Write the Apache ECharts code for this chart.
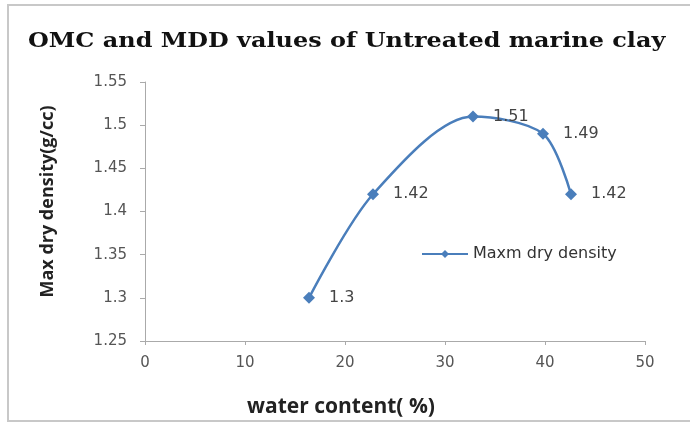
<!DOCTYPE html>
<html>
<head>
<meta charset="utf-8">
<script src="https://cdn.jsdelivr.net/npm/echarts@6/dist/echarts.min.js"></script>
<style>
  html, body { margin: 0; padding: 0; background: #fff; }
  #chart { width: 690px; height: 425px; }
</style>
</head>
<body>
<div id="chart"></div>
<script>
// water content (%) and max dry density (g/cc)
const waterContent = [16.4, 22.8, 32.8, 39.8, 42.6]
const dryDensity = [1.3, 1.42, 1.51, 1.49, 1.42]
const xTicks = [0, 10, 20, 30, 40, 50]
const yTicks = [1.25, 1.3, 1.35, 1.4, 1.45, 1.5, 1.55]

const points = waterContent.map((x, i) => [x, dryDensity[i]])

const chart = echarts.init(document.getElementById('chart'))
chart.setOption({
  animation: false,
  graphic: [
    {
      type: 'rect',
      shape: { x: 8, y: 5, width: 700, height: 416 },
      style: { fill: 'none', stroke: '#c8c8c8', lineWidth: 2 }
    },
    {
      // chart title, stretched a bit to match the wide original face
      type: 'text',
      x: 28,
      y: 31,
      scaleX: 1.14,
      style: {
        text: 'OMC and MDD values of Untreated marine clay',
        fontFamily: "'DejaVu Serif', serif",
        fontWeight: 'bold',
        fontSize: 21,
        fill: '#111'
      }
    }
  ],
  legend: {
    data: ['Maxm dry density'],
    left: 416,
    top: 241,
    itemWidth: 46,
    itemHeight: 10,
    itemGap: 4,
    textStyle: { fontFamily: 'DejaVu Sans', fontSize: 16, color: '#333' }
  },
  grid: { left: 145, right: 45, top: 82, bottom: 84 },
  xAxis: {
    type: 'value',
    min: xTicks[0],
    max: xTicks[xTicks.length - 1],
    interval: 10,
    name: 'water content( %)',
    nameLocation: 'middle',
    nameGap: 56,
    nameTextStyle: {
      fontFamily: 'Open Sans',
      fontWeight: 'bold',
      fontSize: 21,
      color: '#222',
      padding: [0, 108, 0, 0]
    },
    axisLine: { lineStyle: { color: '#aaa' } },
    axisTick: { show: true, inside: false, length: 4, lineStyle: { color: '#aaa' } },
    axisLabel: { fontFamily: 'DejaVu Sans', fontSize: 15, color: '#555', margin: 15 },
    splitLine: { show: false }
  },
  yAxis: {
    type: 'value',
    min: yTicks[0],
    max: yTicks[yTicks.length - 1],
    interval: 0.05,
    name: 'Max dry density(g/cc)',
    nameLocation: 'middle',
    nameGap: 88,
    nameTextStyle: {
      fontFamily: 'Open Sans',
      fontWeight: 'bold',
      fontSize: 18,
      color: '#222',
      padding: [0, 0, 0, 20]
    },
    axisLine: { show: true, lineStyle: { color: '#aaa' } },
    axisTick: { show: true, length: 5, lineStyle: { color: '#aaa' } },
    axisLabel: {
      fontFamily: 'DejaVu Sans',
      fontSize: 15,
      color: '#555',
      margin: 18,
      formatter: v => String(+v.toFixed(2))
    },
    splitLine: { show: false }
  },
  series: [
    {
      name: 'Maxm dry density',
      type: 'line',
      data: points,
      smooth: 0.3,
      symbol: 'diamond',
      symbolSize: 12,
      lineStyle: { color: '#4a7ebb', width: 2.5 },
      itemStyle: { color: '#4a7ebb' },
      label: {
        show: true,
        position: 'right',
        distance: 14,
        fontFamily: 'DejaVu Sans',
        fontSize: 16,
        color: '#444',
        formatter: p => String(p.value[1])
      }
    }
  ]
})
</script>
</body>
</html>
